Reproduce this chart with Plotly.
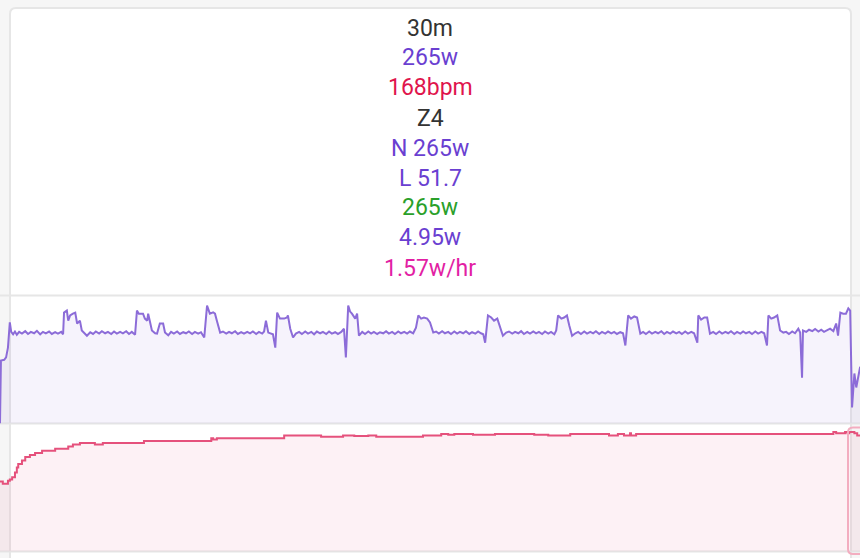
import plotly.graph_objects as go

# ---------------- data ----------------
# power (watts) vs elapsed seconds
power_t = [0, 2, 9, 13, 17, 21, 24, 28, 32, 36, 41, 47, 54, 60, 66, 73, 79, 86, 92, 98, 105, 111, 118, 124, 131, 135,
           137, 143, 146, 150, 156, 161, 165, 171, 175, 182, 186, 193, 199, 205, 212, 218, 225, 231, 238, 244, 250, 257,
           263, 270, 276, 282, 289, 293, 297, 306, 310, 315, 317, 321, 325, 332, 336, 342, 349, 353, 360, 366, 372, 379,
           385, 392, 398, 404, 411, 417, 424, 430, 437, 443, 449, 456, 460, 464, 471, 477, 484, 490, 496, 503, 509, 516,
           522, 529, 535, 541, 548, 554, 561, 565, 569, 574, 580, 584, 589, 593, 599, 608, 614, 616, 621, 627, 633, 640,
           646, 653, 659, 666, 672, 678, 685, 691, 698, 704, 710, 717, 723, 730, 736, 740, 745, 749, 753, 760, 764, 768,
           775, 781, 788, 794, 800, 807, 813, 820, 826, 832, 839, 845, 852, 858, 865, 871, 877, 884, 890, 895, 901, 907,
           914, 920, 927, 933, 939, 946, 952, 959, 965, 972, 978, 984, 991, 997, 1004, 1010, 1017, 1023, 1029, 1034,
           1038, 1044, 1051, 1057, 1064, 1070, 1076, 1083, 1089, 1096, 1102, 1109, 1115, 1121, 1128, 1134, 1141, 1147,
           1153, 1160, 1166, 1173, 1179, 1186, 1190, 1194, 1201, 1207, 1213, 1218, 1224, 1231, 1237, 1243, 1250, 1256,
           1263, 1269, 1275, 1282, 1288, 1295, 1301, 1308, 1314, 1320, 1327, 1333, 1338, 1344, 1350, 1357, 1363, 1370,
           1376, 1382, 1389, 1395, 1402, 1408, 1415, 1421, 1427, 1434, 1440, 1447, 1453, 1459, 1466, 1472, 1479, 1485,
           1492, 1494, 1500, 1507, 1513, 1519, 1526, 1532, 1539, 1545, 1552, 1558, 1564, 1571, 1577, 1584, 1590, 1596,
           1603, 1609, 1616, 1622, 1629, 1635, 1641, 1644, 1650, 1656, 1663, 1669, 1676, 1682, 1688, 1695, 1701, 1708,
           1712, 1716, 1718, 1725, 1731, 1738, 1744, 1751, 1757, 1763, 1770, 1776, 1783, 1789, 1793, 1798, 1804, 1810,
           1815, 1819, 1823, 1828, 1832, 1836, 1840, 1845]
power_w = [0, 180, 182, 189, 217, 289, 262, 255, 263, 254, 262, 257, 264, 256, 262, 258, 265, 255, 262, 258, 263, 256, 261, 257, 262, 255,
           317, 323, 294, 309, 314, 317, 286, 294, 266, 255, 251, 261, 256, 263, 257, 264, 258, 262, 256, 263, 257, 262,
           258, 264, 256, 262, 254, 323, 314, 314, 300, 294, 314, 290, 266, 258, 257, 286, 286, 260, 252, 262, 257, 263,
           256, 261, 258, 263, 256, 262, 257, 261, 246, 337, 314, 318, 314, 294, 260, 263, 257, 262, 258, 264, 256, 261,
           257, 262, 258, 263, 256, 262, 257, 263, 294, 260, 257, 255, 217, 317, 300, 300, 303, 309, 271, 246, 257, 262,
           256, 263, 257, 262, 255, 263, 258, 262, 256, 263, 257, 261, 256, 262, 271, 189, 337, 320, 314, 300, 314, 251,
           262, 256, 263, 257, 262, 256, 261, 258, 264, 257, 262, 256, 263, 258, 262, 257, 263, 258, 274, 309, 300, 303,
           300, 289, 260, 263, 257, 264, 258, 262, 256, 263, 257, 262, 258, 264, 256, 261, 257, 263, 258, 255,
           231, 309, 303, 294, 300, 274, 251, 260, 263, 257, 262, 258, 264, 256, 262, 257, 263, 258,
           262, 256, 263, 257, 262, 255, 266, 309, 300, 303, 309, 280, 251, 258, 262, 256, 263, 257,
           262, 258, 264, 256, 262, 257, 263, 258, 262, 256, 261, 258, 223, 309, 300, 306, 303, 257,
           262, 256, 263, 257, 262, 258, 264, 256, 262, 257, 263, 258, 262, 256, 263, 257, 262, 258,
           231, 309, 297, 303, 303, 257, 262, 256, 263, 257, 262, 258, 264, 256, 262, 257, 263, 258,
           262, 256, 263, 257, 262, 258, 223, 309, 300, 303, 309, 266, 260, 262, 256, 263, 258, 271,
           260, 131, 266, 262, 268, 264, 270, 263, 268, 262, 266, 271, 264, 286, 251, 317, 314, 314,
           329, 323, 46, 143, 103, 131, 160, 165]

# heart rate (bpm) vs elapsed seconds
hr_t = [0, 6, 15, 17, 21, 26, 32, 36, 39, 47, 54, 64, 75, 90, 118, 146, 156, 171, 199, 203, 214, 220, 306, 308,
        449, 452, 456, 460, 464, 606, 608, 685, 687, 732, 734, 755, 758, 785, 788, 803, 805, 903, 905, 942, 944,
        957, 959, 969, 972, 1010, 1012, 1055, 1059, 1098, 1141, 1143, 1171, 1173, 1213, 1220, 1301, 1303, 1320,
        1322, 1333, 1335, 1346, 1348, 1350, 1357, 1361, 1780, 1783, 1789, 1804, 1808, 1813, 1817, 1823, 1828,
        1834, 1845]
hr_bpm = [100, 97, 97, 101, 103, 106, 113, 120, 125, 130, 135, 138, 141, 144, 147, 150, 153, 155, 155, 153, 153, 155, 155, 158,
          158, 162, 160, 160, 162, 162, 166, 166, 164, 164, 166, 166, 165, 165, 166, 166, 164, 164, 166, 166, 168,
          168, 167, 167, 168, 168, 167, 167, 168, 168, 168, 167, 167, 166, 166, 168, 168, 166, 166,
          168, 168, 166, 166, 169, 166, 166, 168, 168, 171, 169, 169, 171, 169, 171, 171, 169,
          166, 166]

stat_labels = ["30m", "265w", "168bpm", "Z4", "N 265w", "L 51.7", "265w", "4.95w", "1.57w/hr"]
stat_colors = ["#333333", "#6a3fd1", "#e0144c", "#333333", "#6a3fd1", "#6a3fd1", "#2aa02a", "#6a3fd1", "#e21fa4"]

# ---------------- layout helpers (pixel -> paper) ----------------
W, H = 860, 558
def X(px):
    return px / W
def Y(py):
    return 1 - py / H

fig = go.Figure()
fig.add_trace(go.Scatter(x=power_t, y=power_w, mode="lines", line=dict(color="#8c6cd8", width=2),
                         fill="tozeroy", fillcolor="rgba(140,108,216,0.08)", xaxis="x", yaxis="y",
                         hoverinfo="skip"))
fig.add_trace(go.Scatter(x=hr_t, y=hr_bpm, mode="lines", line=dict(color="#e5517c", width=2, shape="hv"),
                         fill="tozeroy", fillcolor="rgba(229,81,124,0.08)", xaxis="x2", yaxis="y2",
                         hoverinfo="skip"))

ax = dict(visible=False, showgrid=False, zeroline=False, fixedrange=True)
fig.update_layout(
    width=W, height=H, autosize=False,
    margin=dict(l=0, r=0, t=0, b=0),
    paper_bgcolor="#f6f6f6", plot_bgcolor="rgba(0,0,0,0)",
    showlegend=False,
    xaxis=dict(ax, range=[0, 1840], domain=[0, 1], anchor="y"),
    yaxis=dict(ax, range=[0, 366], domain=[Y(423.5), Y(295.5)], anchor="x"),
    xaxis2=dict(ax, range=[0, 1840], domain=[0, 1], anchor="y2"),
    yaxis2=dict(ax, range=[0, 183], domain=[Y(551.5), Y(423.5)], anchor="x2"),
)

r = 6
card = (f"M {X(10)},{Y(560)} L {X(10)},{Y(8 + r)} Q {X(10)},{Y(8)} {X(10 + r)},{Y(8)} "
        f"L {X(851 - r)},{Y(8)} Q {X(851)},{Y(8)} {X(851)},{Y(8 + r)} L {X(851)},{Y(560)}")
shapes = [
    dict(type="path", path=card + " Z", xref="paper", yref="paper", fillcolor="white",
         line=dict(width=0), layer="below"),
]
for py in [295.5, 423.5, 551.5]:
    shapes.append(dict(type="line", xref="paper", yref="paper", x0=0, x1=1, y0=Y(py), y1=Y(py),
                       line=dict(color="#e6e6e6", width=2), layer="below"))
shapes.append(dict(type="path", path=card, xref="paper", yref="paper", fillcolor="rgba(0,0,0,0)",
                   line=dict(color="#e6e6e6", width=2), layer="below"))
rr = 5
sel = (f"M {X(880)},{Y(427.5)} L {X(848 + rr)},{Y(427.5)} Q {X(848)},{Y(427.5)} {X(848)},{Y(427.5 + rr)} "
       f"L {X(848)},{Y(554 - rr)} Q {X(848)},{Y(554)} {X(848 + rr)},{Y(554)} L {X(880)},{Y(554)}")
shapes.append(dict(type="path", path=sel, xref="paper", yref="paper", fillcolor="rgba(0,0,0,0)",
                   line=dict(color="#f3adc0", width=2), layer="above"))
fig.update_layout(shapes=shapes)

for i, (lab, col) in enumerate(zip(stat_labels, stat_colors)):
    fig.add_annotation(text=lab, x=X(430.5), y=Y(28 + 30 * i), xref="paper", yref="paper",
                       xanchor="center", yanchor="middle", showarrow=False,
                       font=dict(family="Roboto", size=23, color=col))

fig.write_html("out.html", config={"displayModeBar": False, "staticPlot": True},
               post_script="document.body.style.margin='0';document.body.style.overflow='hidden';")
